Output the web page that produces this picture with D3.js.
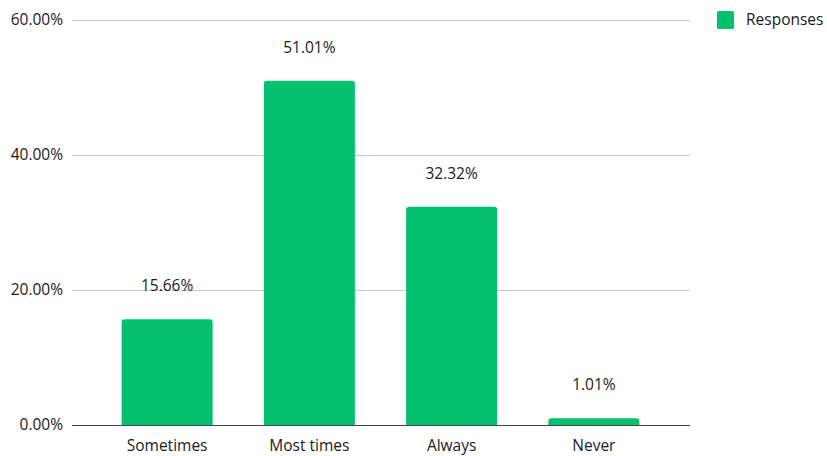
<!doctype html>
<html>
<head>
<meta charset="utf-8">
<script src="https://cdn.jsdelivr.net/npm/d3@7"></script>
<style>
  body { margin: 0; background: #fff; }
  text { font-family: "Open Sans", sans-serif; fill: #1a1a1a; font-size: 15.5px; }
</style>
</head>
<body>
<script>
var categories = ["Sometimes", "Most times", "Always", "Never"];
var values = [15.66, 51.01, 32.32, 1.01];
var yTicks = [0, 20, 40, 60];
var seriesName = "Responses";

var W = 827, H = 456;
var svg = d3.select("body").append("svg")
  .attr("width", W)
  .attr("height", H);

var x = d3.scaleBand()
  .domain(categories)
  .range([96, 665])
  .paddingInner(0.36)
  .paddingOuter(0.18);

var y = d3.scaleLinear()
  .domain([0, 60])
  .range([425, 20]);

// gridlines
svg.append("g")
  .selectAll("line")
  .data(yTicks.filter(function(d) { return d > 0; }))
  .enter().append("line")
  .attr("x1", 72).attr("x2", 690)
  .attr("y1", function(d) { return y(d) + 0.5; })
  .attr("y2", function(d) { return y(d) + 0.5; })
  .style("stroke", "#c8c8c8")
  .style("stroke-width", 1);

// y tick labels
svg.append("g")
  .selectAll("text")
  .data(yTicks)
  .enter().append("text")
  .attr("x", 63)
  .attr("y", function(d) { return y(d); })
  .attr("dy", "0.35em")
  .attr("text-anchor", "end")
  .text(function(d) { return d.toFixed(2) + "%"; });

// bars with rounded tops
function barPath(d, i) {
  var x0 = x(categories[i]), w = x.bandwidth();
  var yt = y(d), yb = y(0), r = Math.min(3, yb - yt);
  return "M" + x0 + "," + yb +
    "V" + (yt + r) +
    "Q" + x0 + "," + yt + " " + (x0 + r) + "," + yt +
    "H" + (x0 + w - r) +
    "Q" + (x0 + w) + "," + yt + " " + (x0 + w) + "," + (yt + r) +
    "V" + yb + "Z";
}

svg.append("g")
  .selectAll("path")
  .data(values)
  .enter().append("path")
  .attr("d", barPath)
  .style("fill", "#04c06f");

// value labels
svg.append("g")
  .selectAll("text")
  .data(values)
  .enter().append("text")
  .attr("x", function(d, i) { return x(categories[i]) + x.bandwidth() / 2; })
  .attr("y", function(d) { return y(d) - 28; })
  .attr("text-anchor", "middle")
  .text(function(d) { return d.toFixed(2) + "%"; });

// baseline
svg.append("line")
  .attr("x1", 72).attr("x2", 690)
  .attr("y1", y(0) + 0.5).attr("y2", y(0) + 0.5)
  .style("stroke", "#444")
  .style("stroke-width", 1.2);

// category labels
svg.append("g")
  .selectAll("text")
  .data(categories)
  .enter().append("text")
  .attr("x", function(d) { return x(d) + x.bandwidth() / 2; })
  .attr("y", 446)
  .attr("dy", "0.35em")
  .attr("text-anchor", "middle")
  .text(function(d) { return d; });

// legend
var lg = svg.append("g");
lg.append("rect")
  .attr("x", 717).attr("y", 11)
  .attr("width", 17).attr("height", 18)
  .attr("rx", 1.5)
  .style("fill", "#04c06f");
lg.append("text")
  .attr("x", 746).attr("y", 20)
  .attr("dy", "0.35em")
  .text(seriesName);
</script>
</body>
</html>
